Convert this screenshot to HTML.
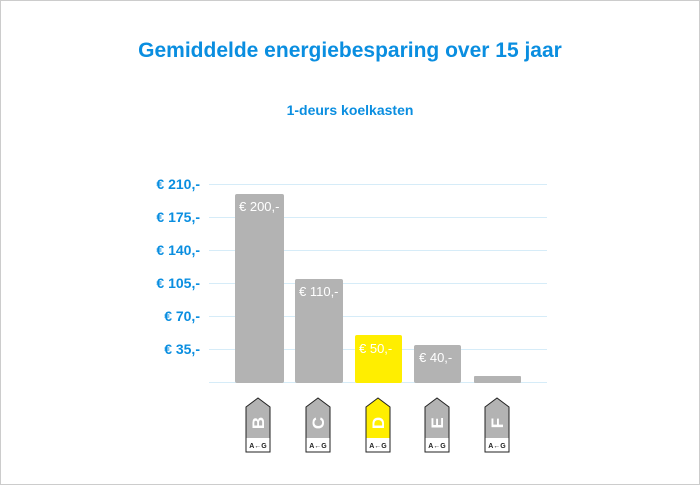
<!DOCTYPE html>
<html><head><style>
body{margin:0;width:700px;height:485px;background:#fff;font-family:"Liberation Sans",sans-serif;overflow:hidden}
.frame{position:absolute;left:0;top:0;width:698px;height:483px;border:1px solid #ccc}
</style></head><body><div class="frame"></div>
<svg width="700" height="485" style="position:absolute;left:0;top:0" font-family="Liberation Sans, sans-serif">
<text x="350" y="57" text-anchor="middle" font-size="21" font-weight="bold" fill="#0a8ee0">Gemiddelde energiebesparing over 15 jaar</text>
<text x="350" y="115" text-anchor="middle" font-size="14" font-weight="bold" fill="#0a8ee0">1-deurs koelkasten</text>
<g stroke="#d6ecf8" stroke-width="1">
<line x1="209" x2="547" y1="184.5" y2="184.5"/><line x1="209" x2="547" y1="217.5" y2="217.5"/>
<line x1="209" x2="547" y1="250.5" y2="250.5"/><line x1="209" x2="547" y1="283.5" y2="283.5"/>
<line x1="209" x2="547" y1="316.5" y2="316.5"/><line x1="209" x2="547" y1="349.5" y2="349.5"/>
<line x1="209" x2="547" y1="382.5" y2="382.5"/></g>
<g font-size="14" font-weight="bold" fill="#0a8ee0" text-anchor="end">
<text x="200" y="189">€ 210,-</text><text x="200" y="222">€ 175,-</text><text x="200" y="255">€ 140,-</text>
<text x="200" y="288">€ 105,-</text><text x="200" y="321">€ 70,-</text><text x="200" y="354">€ 35,-</text></g>
<g>
<rect x="235" y="194" width="49" height="189" rx="2" fill="#b3b3b3"/>
<rect x="295" y="279" width="48" height="104" rx="2" fill="#b3b3b3"/>
<rect x="355" y="335" width="47" height="48" rx="2" fill="#ffee00"/>
<rect x="414" y="345" width="47" height="38" rx="2" fill="#b3b3b3"/>
<rect x="474" y="376" width="47" height="7" rx="1" fill="#b3b3b3"/></g>
<g font-size="13" fill="#fff">
<text x="239" y="211">€ 200,-</text><text x="299" y="296">€ 110,-</text>
<text x="359" y="353">€ 50,-</text><text x="419" y="362">€ 40,-</text></g>
<g>
<g transform="translate(258,0)">
<path d="M-12,407 L0,398 L12,407 L12,452 L-12,452 Z" fill="#b3b3b3" stroke="#222" stroke-width="1"/>
<rect x="-11.5" y="438" width="23" height="13.5" fill="#fff"/>
<text transform="translate(6,423) rotate(-90)" text-anchor="middle" font-size="17" font-weight="bold" fill="#fff">B</text>
<text x="0" y="448" text-anchor="middle" font-size="7" font-weight="bold" fill="#222">A←G</text></g>
<g transform="translate(318,0)">
<path d="M-12,407 L0,398 L12,407 L12,452 L-12,452 Z" fill="#b3b3b3" stroke="#222" stroke-width="1"/>
<rect x="-11.5" y="438" width="23" height="13.5" fill="#fff"/>
<text transform="translate(6,423) rotate(-90)" text-anchor="middle" font-size="17" font-weight="bold" fill="#fff">C</text>
<text x="0" y="448" text-anchor="middle" font-size="7" font-weight="bold" fill="#222">A←G</text></g>
<g transform="translate(378,0)">
<path d="M-12,407 L0,398 L12,407 L12,452 L-12,452 Z" fill="#ffee00" stroke="#222" stroke-width="1"/>
<rect x="-11.5" y="438" width="23" height="13.5" fill="#fff"/>
<text transform="translate(6,423) rotate(-90)" text-anchor="middle" font-size="17" font-weight="bold" fill="#fff">D</text>
<text x="0" y="448" text-anchor="middle" font-size="7" font-weight="bold" fill="#222">A←G</text></g>
<g transform="translate(437,0)">
<path d="M-12,407 L0,398 L12,407 L12,452 L-12,452 Z" fill="#b3b3b3" stroke="#222" stroke-width="1"/>
<rect x="-11.5" y="438" width="23" height="13.5" fill="#fff"/>
<text transform="translate(6,423) rotate(-90)" text-anchor="middle" font-size="17" font-weight="bold" fill="#fff">E</text>
<text x="0" y="448" text-anchor="middle" font-size="7" font-weight="bold" fill="#222">A←G</text></g>
<g transform="translate(497,0)">
<path d="M-12,407 L0,398 L12,407 L12,452 L-12,452 Z" fill="#b3b3b3" stroke="#222" stroke-width="1"/>
<rect x="-11.5" y="438" width="23" height="13.5" fill="#fff"/>
<text transform="translate(6,423) rotate(-90)" text-anchor="middle" font-size="17" font-weight="bold" fill="#fff">F</text>
<text x="0" y="448" text-anchor="middle" font-size="7" font-weight="bold" fill="#222">A←G</text></g>
</g>
</svg></body></html>
